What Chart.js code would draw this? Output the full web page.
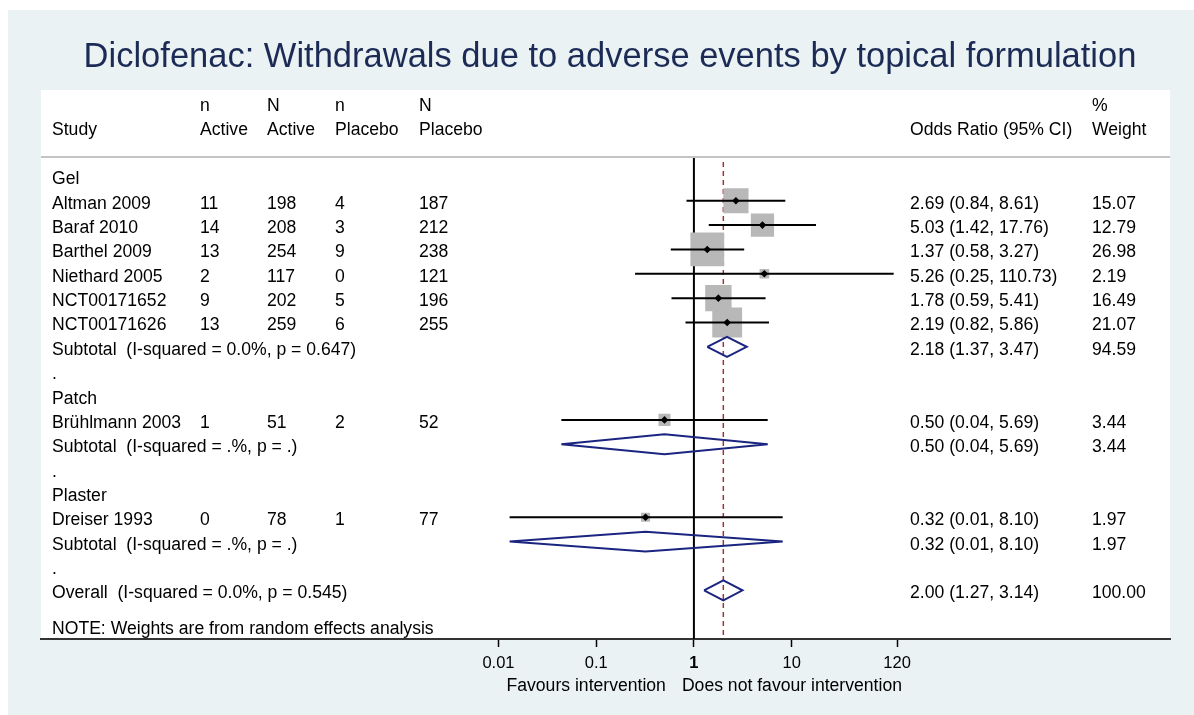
<!DOCTYPE html>
<html><head><meta charset="utf-8">
<script src="https://cdn.jsdelivr.net/npm/chart.js@4.4.1/dist/chart.umd.min.js"></script>
<style>html,body{margin:0;padding:0;background:#fff;overflow:hidden}</style>
</head><body>
<canvas id="c" width="1194" height="715"></canvas>
<script>
// ---------------- data ----------------
const titleText = "Diclofenac: Withdrawals due to adverse events by topical formulation";
const studies   = ["Altman 2009","Baraf 2010","Barthel 2009","Niethard 2005","NCT00171652","NCT00171626","Brühlmann 2003","Dreiser 1993"];
const studyRows = [1,2,3,4,5,6,10,14];
const nActive   = [11,14,13,2,9,13,1,0];
const NActive   = [198,208,254,117,202,259,51,78];
const nPlacebo  = [4,3,9,0,5,6,2,1];
const NPlacebo  = [187,212,238,121,196,255,52,77];
const orEst     = [2.69,5.03,1.37,5.26,1.78,2.19,0.50,0.32];
const orLow     = [0.84,1.42,0.58,0.25,0.59,0.82,0.044,0.013];
const orHigh    = [8.61,17.76,3.27,110.73,5.41,5.86,5.69,8.10];
const weights   = [15.07,12.79,26.98,2.19,16.49,21.07,3.44,1.97];

const groups    = ["Gel","Patch","Plaster"];
const groupRows = [0,9,13];
const subLabels = ["Subtotal  (I-squared = 0.0%, p = 0.647)","Subtotal  (I-squared = .%, p = .)","Subtotal  (I-squared = .%, p = .)","Overall  (I-squared = 0.0%, p = 0.545)"];
const subRows   = [7,11,15,17];
const subEst    = [2.18,0.50,0.32,2.00];
const subLow    = [1.37,0.044,0.013,1.27];
const subHigh   = [3.47,5.69,8.10,3.14];
const subWeights= [94.59,3.44,1.97,100.00];
const dotRows   = [8,12,16];
const noteText  = "NOTE: Weights are from random effects analysis";
const noteRow   = 18.45;
const headTop   = ["","n","N","n","N","","%"];
const headBottom= ["Study","Active","Active","Placebo","Placebo","Odds Ratio (95% CI)","Weight"];
const tickValues= [0.01,0.1,1,10,120];
const tickLabels= ["0.01","0.1","1","10","120"];
const favourLeft = "Favours intervention";
const favourRight= "Does not favour intervention";

// ---------------- styling ----------------
const FF = '"Liberation Sans", Arial, Helvetica, sans-serif';
const fnt = (sz, w) => `${w||'normal'} ${sz}px ${FF}`;
const colX = [52,200,267,335,419,910,1092];
const Y_MIN = -0.756, Y_MAX = 19.0;
const X_MIN = Math.pow(10,-6.681), X_MAX = Math.pow(10,4.873);
const BOX_K = 6.5;        // square side ~ BOX_K*sqrt(weight)
const DIA_H = 0.41;       // diamond half height in rows
const NAVY = '#1b2580', MAROON = '#a3303d';

const datasets = [];
// reference lines
const overall = subEst[3];
datasets.push({type:'line', data:[{x:1,y:Y_MIN},{x:1,y:Y_MAX}], borderColor:'#000', borderWidth:2, pointRadius:0, order:5});
datasets.push({type:'line', data:[{x:overall,y:Y_MIN+0.16},{x:overall,y:Y_MAX}], borderColor:MAROON, borderWidth:1.5, borderDash:[5,4], pointRadius:0, order:4});
// weight boxes
datasets.push({type:'scatter', data: orEst.map((v,i)=>({x:v,y:studyRows[i]})),
  pointStyle:'rect', pointRadius: weights.map(w=>BOX_K*Math.sqrt(w)/(2*Math.SQRT1_2)),
  backgroundColor:'#b8b8b8', borderWidth:0, order:3});
// CI lines
orEst.forEach((v,i)=>{
  datasets.push({type:'line', data:[{x:orLow[i],y:studyRows[i]},{x:orHigh[i],y:studyRows[i]}],
    borderColor:'#000', borderWidth:2, pointRadius:0, order:2});
});
// point estimates
datasets.push({type:'scatter', data: orEst.map((v,i)=>({x:v,y:studyRows[i]})),
  pointStyle:'rectRot', pointRadius:3.8, backgroundColor:'#000', borderWidth:0, order:1});
// diamonds
subEst.forEach((v,i)=>{
  const r = subRows[i];
  datasets.push({type:'line', data:[{x:subLow[i],y:r},{x:v,y:r-DIA_H},{x:subHigh[i],y:r},{x:v,y:r+DIA_H},{x:subLow[i],y:r}],
    borderColor:NAVY, borderWidth:2, pointRadius:0, fill:false, tension:0, order:0});
});

const bgPlugin = {
  id:'bg',
  beforeDraw(chart){
    const ctx = chart.ctx, a = chart.chartArea;
    ctx.save();
    ctx.fillStyle = '#ffffff'; ctx.fillRect(0,0,chart.width,chart.height);
    ctx.fillStyle = '#eaf2f3'; ctx.fillRect(8,10,chart.width-8,chart.height-10);
    ctx.fillStyle = '#ffffff'; ctx.fillRect(a.left,90,a.right-a.left,a.bottom-90);
    ctx.strokeStyle = '#c4c4c4'; ctx.lineWidth = 2;
    ctx.beginPath(); ctx.moveTo(a.left,a.top-1); ctx.lineTo(a.right,a.top-1); ctx.stroke();
    // title
    ctx.fillStyle = '#1c2b55'; ctx.font = fnt(34.5); ctx.textAlign='center'; ctx.textBaseline='alphabetic';
    ctx.fillText(titleText, 610, 67);
    ctx.restore();
  }
};

const textPlugin = {
  id:'txt',
  afterDraw(chart){
    const ctx = chart.ctx, ys = chart.scales.y, xs = chart.scales.x;
    const by = r => ys.getPixelForValue(r) + 8;
    ctx.save();
    ctx.fillStyle = '#000'; ctx.font = fnt(17.6); ctx.textAlign='left'; ctx.textBaseline='alphabetic';
    headTop.forEach((t,i)=>{ if(t) ctx.fillText(t, colX[i], 111); });
    headBottom.forEach((t,i)=> ctx.fillText(t, colX[i], 135));
    groups.forEach((g,i)=> ctx.fillText(g, colX[0], by(groupRows[i])));
    studies.forEach((s,i)=>{
      const b = by(studyRows[i]);
      ctx.fillText(s, colX[0], b);
      ctx.fillText(String(nActive[i]), colX[1], b);
      ctx.fillText(String(NActive[i]), colX[2], b);
      ctx.fillText(String(nPlacebo[i]), colX[3], b);
      ctx.fillText(String(NPlacebo[i]), colX[4], b);
      ctx.fillText(`${orEst[i].toFixed(2)} (${orLow[i].toFixed(2)}, ${orHigh[i].toFixed(2)})`, colX[5], b);
      ctx.fillText(weights[i].toFixed(2), colX[6], b);
    });
    subLabels.forEach((s,i)=>{
      const b = by(subRows[i]);
      ctx.fillText(s, colX[0], b);
      ctx.fillText(`${subEst[i].toFixed(2)} (${subLow[i].toFixed(2)}, ${subHigh[i].toFixed(2)})`, colX[5], b);
      ctx.fillText(subWeights[i].toFixed(2), colX[6], b);
    });
    dotRows.forEach(r=> ctx.fillText('.', colX[0], by(r)));
    ctx.fillText(noteText, colX[0], by(noteRow));
    // favour labels
    const x1 = xs.getPixelForValue(1);
    ctx.textAlign='right'; ctx.fillText(favourLeft, x1-28, 691);
    ctx.textAlign='left';  ctx.fillText(favourRight, x1-12, 691);
    ctx.restore();
  }
};

new Chart(document.getElementById('c'), {
  type:'scatter',
  data:{datasets},
  options:{
    responsive:false, animation:false, devicePixelRatio:1,
    layout:{padding:{left:41,right:20,top:158,bottom:0}},
    plugins:{legend:{display:false}, tooltip:{enabled:false}, title:{display:false}},
    scales:{
      x:{type:'logarithmic', position:'bottom', min:X_MIN, max:X_MAX,
        afterBuildTicks(s){ s.ticks = tickValues.map(v=>({value:v})); },
        afterFit(s){ s.height = 76; },
        ticks:{ autoSkip:false, maxRotation:0, padding:7, color:'#000',
          font:(c)=> ({family:FF, size:16.5, weight: (c.tick && c.tick.value===1) ? 'bold':'normal'}),
          callback:(v)=>{ const k = tickValues.indexOf(v); return k>=0 ? tickLabels[k] : ''; } },
        grid:{display:true, drawOnChartArea:false, drawTicks:true, tickLength:8, tickWidth:1.5, tickColor:'#000'},
        border:{display:true, color:'#333', width:2}
      },
      y:{type:'linear', reverse:true, min:Y_MIN, max:Y_MAX, display:false}
    }
  },
  plugins:[bgPlugin, textPlugin]
});
</script>
</body></html>
